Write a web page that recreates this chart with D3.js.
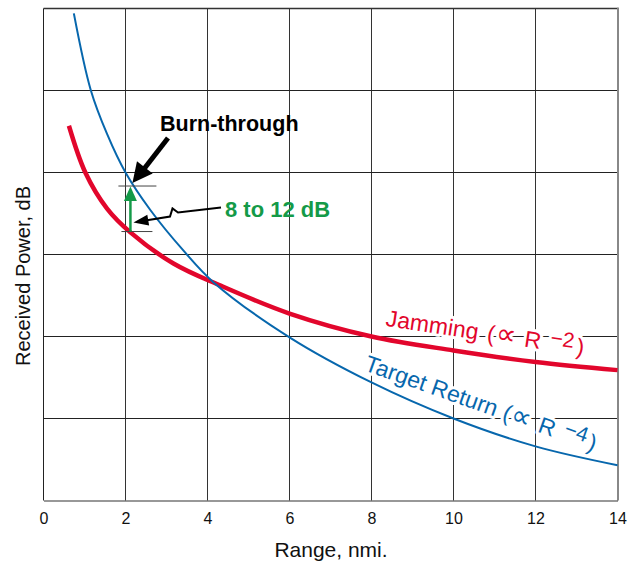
<!DOCTYPE html>
<html>
<head>
<meta charset="utf-8">
<script src="https://cdn.jsdelivr.net/npm/d3@7"></script>
<style>
  html, body { margin: 0; padding: 0; background: #fff; }
  svg { display: block; font-family: Arial, "Liberation Sans", sans-serif; }
</style>
</head>
<body>
<svg id="chart" width="633" height="563"></svg>
<script>
// Range axis (nmi) and received-power grid rows (relative units, unlabelled)
const rangeTicks = [0, 2, 4, 6, 8, 10, 12, 14];
const powerGrid = [0, 1, 2, 3, 4, 5, 6];

// Target return curve (falls off as R^-4)
const targetRange = [0.74, 1.15, 1.55, 2.0, 2.61, 3.41, 4.15, 6.0, 8.0, 10.0, 12.0, 14.0];
const targetPower = [5.94, 5.01, 4.47, 4.0, 3.54, 3.05, 2.66, 1.99, 1.44, 1.0, 0.66, 0.43];

// Jamming curve (falls off as R^-2)
const jamRange = [0.62, 1.02, 1.55, 2.12, 3.17, 4.32, 6.0, 8.0, 10.0, 12.0, 14.0];
const jamPower = [4.57, 4.0, 3.56, 3.27, 2.89, 2.62, 2.28, 2.0, 1.83, 1.69, 1.59];

// Burn-through marker: range and the two power levels it spans
const burnRange = 2.12;
const burnTop = 3.835;
const burnBottom = 3.28;

const svg = d3.select("#chart");
const x = d3.scaleLinear().domain([0, 14]).range([43.5, 617.5]);
const y = d3.scaleLinear().domain([0, 6]).range([500.5, 8.5]);

const RED = "#e2062c", BLUE = "#0767ad", GREEN = "#149a48";

// grid
const grid = svg.append("g");
grid.selectAll("line.v").data(rangeTicks.slice(1, -1)).join("line")
  .attr("x1", d => x(d)).attr("x2", d => x(d))
  .attr("y1", y(6)).attr("y2", y(0))
  .attr("stroke", "#333").attr("stroke-width", 1);
grid.selectAll("line.h").data(powerGrid.slice(1, -1)).join("line")
  .attr("x1", x(0)).attr("x2", x(14))
  .attr("y1", d => y(d)).attr("y2", d => y(d))
  .attr("stroke", "#222").attr("stroke-width", 1);
// frame
grid.append("line").attr("x1", x(0)).attr("x2", x(14)).attr("y1", y(6)).attr("y2", y(6))
  .attr("stroke", "#333").attr("stroke-width", 1.5);
grid.append("line").attr("x1", x(0)).attr("x2", x(0)).attr("y1", y(6)).attr("y2", y(0))
  .attr("stroke", "#222").attr("stroke-width", 1);
grid.append("line").attr("x1", x(14) + 0.5).attr("x2", x(14) + 0.5).attr("y1", y(6) - 1).attr("y2", y(0))
  .attr("stroke", "#888").attr("stroke-width", 2);

// bottom axis
const xAxis = d3.axisBottom(x).tickValues(rangeTicks).tickSize(0).tickPadding(12);
const ax = svg.append("g").attr("transform", `translate(0,${y(0)})`).call(xAxis);
ax.select(".domain").attr("stroke", "#333").attr("stroke-width", 1.2);
ax.selectAll("text").attr("font-size", 16).attr("font-family", "Arial, 'Liberation Sans', sans-serif")
  .attr("fill", "#111");

svg.append("text").attr("x", 331).attr("y", 557).attr("text-anchor", "middle")
  .attr("font-size", 21).attr("fill", "#111").text("Range, nmi.");
svg.append("text").attr("transform", "translate(30,276) rotate(-90)").attr("text-anchor", "middle")
  .attr("font-size", 20).attr("fill", "#111").text("Received Power, dB");

// curve labels (white halo hides the grid behind them)
function curveLabel(r, p, angle, color, main, exp, gap) {
  const t = svg.append("text")
    .attr("transform", `translate(${x(r)},${y(p)}) rotate(${angle})`)
    .attr("font-size", 23).attr("fill", color)
    .attr("stroke", "#fff").attr("stroke-width", 6).attr("stroke-linejoin", "round")
    .style("paint-order", "stroke");
  t.append("tspan").text(main);
  t.append("tspan").attr("dx", gap).text("(");
  t.append("tspan").attr("font-size", 28).attr("dx", 1).text("\u221D");
  t.append("tspan").attr("dx", 9).text("R");
  t.append("tspan").attr("dx", 9).attr("dy", -6).attr("font-size", 21).text("\u2212" + exp);
  t.append("tspan").attr("dx", 3).attr("dy", 6).text(")");
}
curveLabel(8.33, 2.13, 8.5, RED, "Jamming", "2", 9);
curveLabel(7.8, 1.59, 19.5, BLUE, "Target Return", "4", 7);

// curves
const line = d3.line().curve(d3.curveCatmullRom.alpha(0.5));
svg.append("path")
  .attr("d", line(jamRange.map((r, i) => [x(r), y(jamPower[i])])))
  .attr("fill", "none").attr("stroke", RED).attr("stroke-width", 4.5).attr("stroke-linecap", "butt");
svg.append("path")
  .attr("d", line(targetRange.map((r, i) => [x(r), y(targetPower[i])])))
  .attr("fill", "none").attr("stroke", BLUE).attr("stroke-width", 2);

// burn-through bracket
const bx = x(burnRange), yTop = y(burnTop), yBot = y(burnBottom);
svg.append("line").attr("x1", bx - 12).attr("x2", bx + 26).attr("y1", yTop).attr("y2", yTop)
  .attr("stroke", "#444").attr("stroke-width", 1);
svg.append("line").attr("x1", bx - 9).attr("x2", bx + 22).attr("y1", yBot).attr("y2", yBot)
  .attr("stroke", "#444").attr("stroke-width", 1);
// green arrow between the two levels
svg.append("line").attr("x1", bx).attr("x2", bx).attr("y1", yBot).attr("y2", yTop + 12)
  .attr("stroke", GREEN).attr("stroke-width", 2.5);
svg.append("path")
  .attr("d", `M${bx},${yTop + 0.5} L${bx - 6.5},${yTop + 15} L${bx + 6.5},${yTop + 15} Z`)
  .attr("fill", GREEN);

// "Burn-through" pointer
function arrowHead(tipX, tipY, fromX, fromY, len, half) {
  const a = Math.atan2(tipY - fromY, tipX - fromX);
  const bxp = tipX - len * Math.cos(a), byp = tipY - len * Math.sin(a);
  const nx = -Math.sin(a) * half, ny = Math.cos(a) * half;
  return `M${tipX},${tipY} L${bxp + nx},${byp + ny} L${bxp - nx},${byp - ny} Z`;
}
const tip1 = [bx + 2, yTop - 3];
svg.append("line").attr("x1", 168).attr("y1", 138).attr("x2", tip1[0] + 10).attr("y2", tip1[1] - 12)
  .attr("stroke", "#000").attr("stroke-width", 5);
svg.append("path").attr("d", arrowHead(tip1[0], tip1[1], 168, 138, 20, 10)).attr("fill", "#000");

svg.append("text").attr("x", 160).attr("y", 131).attr("font-size", 21.5).attr("font-weight", "bold")
  .attr("fill", "#000").text("Burn-through");

// zig-zag pointer to the green arrow
const tip2 = [bx + 3, y(burnBottom) - 9];
svg.append("path")
  .attr("d", `M221,207.5 L178,212.5 L172.5,208.5 L170,216.5 L${tip2[0] + 12},${tip2[1] - 2}`)
  .attr("fill", "none").attr("stroke", "#000").attr("stroke-width", 2).attr("stroke-linejoin", "miter");
svg.append("path").attr("d", arrowHead(tip2[0], tip2[1], 170, 216.5, 15, 5.5)).attr("fill", "#000");

svg.append("text").attr("x", 225).attr("y", 217).attr("font-size", 22).attr("font-weight", "bold")
  .attr("fill", GREEN).text("8 to 12 dB");
</script>
</body>
</html>
